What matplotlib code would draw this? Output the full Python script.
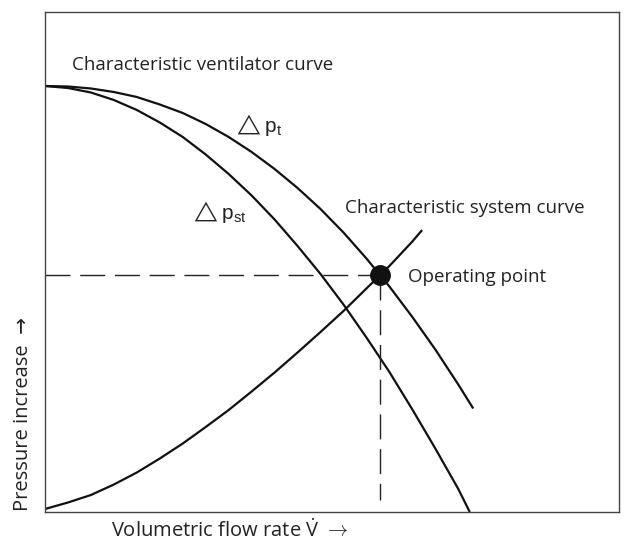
import matplotlib
matplotlib.use("Agg")
import matplotlib.pyplot as plt

plt.rcParams['font.family'] = ['Open Sans', 'DejaVu Sans']
plt.rcParams['mathtext.fontset'] = 'custom'
plt.rcParams['mathtext.rm'] = 'Open Sans'
plt.rcParams['mathtext.sf'] = 'Liberation Sans'
plt.rcParams['mathtext.it'] = 'Open Sans'

# flow rate / pressure, both in % of the axis range
flow = [0, 4, 8, 12, 16, 20, 24, 28, 32, 36, 40, 44, 48, 52, 56, 60, 64, 68, 72]

flow_t = flow + [74.6]
dp_t = [85.2, 85.1, 84.7, 84.0, 83.0, 81.5, 79.8, 77.6, 75.0, 72.0,
        68.6, 64.8, 60.6, 55.9, 50.7, 45.1, 39.0, 32.5, 25.5, 20.7]

flow_st = flow + [74.0]
dp_st = [85.2, 84.8, 83.9, 82.4, 80.4, 77.9, 75.0, 71.5, 67.6, 63.3,
         58.5, 53.2, 47.6, 41.5, 34.9, 28.0, 20.5, 12.7, 4.6, 0.0]

flow_sys = flow[:17] + [65.7]
dp_sys = [0.6, 1.9, 3.4, 5.5, 7.9, 10.7, 13.7, 17.0, 20.4, 24.1,
          27.9, 31.9, 36.0, 40.2, 44.7, 49.2, 54.1, 56.4]

op_flow, op_dp = 58.4, 47.4

fig = plt.figure(figsize=(6.26, 5.43), dpi=100)
ax = fig.add_axes([45 / 626, 31 / 543, 574 / 626, 500 / 543])
ax.set_xlim(0, 100)
ax.set_ylim(0, 100)
ax.set_xticks([])
ax.set_yticks([])
for s in ax.spines.values():
    s.set_linewidth(1.0)
    s.set_color('#444444')

ax.plot(flow_t, dp_t, color='#111111', lw=1.6, solid_capstyle='butt')
ax.plot(flow_st, dp_st, color='#111111', lw=1.6, solid_capstyle='butt')
ax.plot(flow_sys, dp_sys, color='#111111', lw=1.6, solid_capstyle='butt')

# dashed guides to the operating point
ax.plot([0, op_flow], [op_dp, op_dp], color='#222222', lw=1.0, dashes=(18, 7))
ax.plot([op_flow, op_flow], [op_dp, 2.4], color='#222222', lw=1.0, dashes=(18, 7))
ax.plot([op_flow], [op_dp], 'o', color='#111111', ms=14, zorder=5)

fs = 13.5
ax.text(4.7, 89.4, 'Characteristic ventilator curve', fontsize=fs, va='center', ha='left', color='#222222')
ax.text(32.8, 77.4, r'$\triangle\mathsf{p}_{\mathsf{t}}$', fontsize=15, va='center', ha='left', color='#222222')
ax.text(25.3, 60.0, r'$\triangle\mathsf{p}_{\mathsf{st}}$', fontsize=15, va='center', ha='left', color='#222222')
ax.text(52.3, 60.8, 'Characteristic system curve', fontsize=fs, va='center', ha='left', color='#222222')
ax.text(63.2, 47.0, 'Operating point', fontsize=fs, va='center', ha='left', color='#222222')

fig.text(0.367, 0.022, r'Volumetric flow rate $\dot{\mathrm{V}}\ \rightarrow$', fontsize=14.5, ha='center', va='center', color='#222222')
fig.text(0.036, 0.238, 'Pressure increase  \u2192', fontsize=14.5, ha='center', va='center', rotation=90, color='#222222')

fig.savefig('out.png', dpi=100)
